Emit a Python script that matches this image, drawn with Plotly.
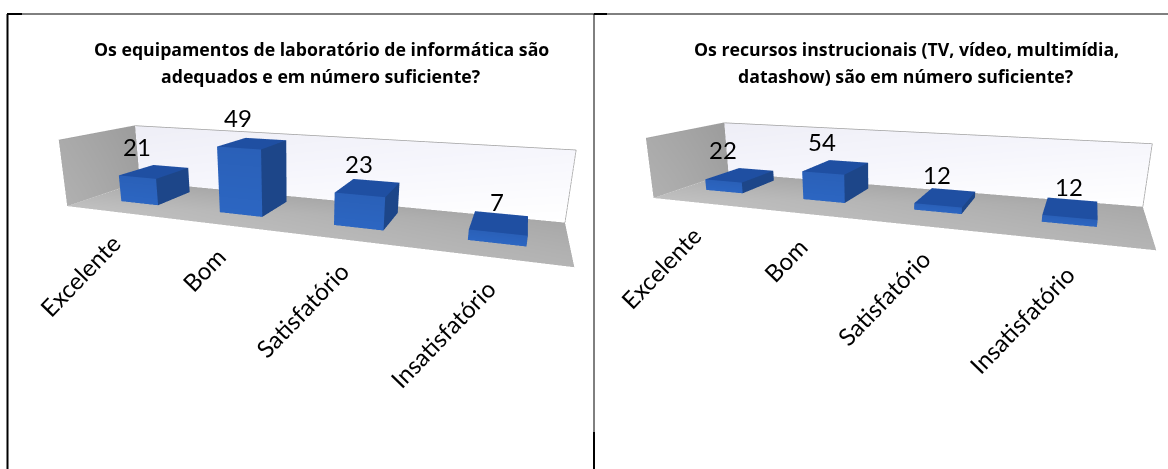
import plotly.graph_objects as go

W, H = 1168, 469

categorias = ["Excelente", "Bom", "Satisfatório", "Insatisfatório"]
valores_a = [21, 49, 23, 7]
valores_b = [22, 54, 12, 12]
titulo_a = ["Os equipamentos de laboratório de informática são", "adequados e em número suficiente?"]
titulo_b = ["Os recursos instrucionais (TV, vídeo, multimídia,", "datashow) são em número suficiente?"]

FONTE = "Lato"
LUZ = dict(ambient=1, diffuse=0, specular=0, fresnel=0, roughness=1)


def quad(fig, scene, xs, ys, zs, cols):
    fig.add_trace(go.Mesh3d(
        x=xs, y=ys, z=zs, i=[0, 0], j=[1, 2], k=[2, 3], vertexcolor=cols,
        lighting=LUZ, flatshading=True, hoverinfo="skip", scene=scene, showscale=False,
    ))


def painel(fig, scene, valores, zmax, y0, y1, dx):
    # paredes e piso
    quad(fig, scene, [0, 0, 4, 4], [1, 1, 1, 1], [0, zmax, zmax, 0], ["#f5f5fc", "#eeeef6", "#f6f6fc", "#ffffff"])
    quad(fig, scene, [0, 0, 0, 0], [0, 1, 1, 0], [0, 0, zmax, zmax], ["#b0b0b0", "#a0a0a0", "#9c9c9c", "#ababab"])
    quad(fig, scene, [0, 4, 4, 0], [0, 0, 1, 1], [0, 0, 0, 0], ["#c0c0c0", "#b4b4b4", "#a8a8a8", "#a8a8a8"])
    fig.add_trace(go.Scatter3d(
        x=[0, 0, 4, 4], y=[0, 1, 1, 1], z=[zmax, zmax, zmax, 0], mode="lines",
        line=dict(color="#a0a0a0", width=1.5), hoverinfo="skip", scene=scene,
    ))
    # barras
    for i, v in enumerate(valores):
        x0, x1 = i + 0.33 + dx, i + 0.72 + dx
        quad(fig, scene, [x0, x1, x1, x0], [y0] * 4, [0, 0, v, v], ["#2c66c2", "#2c66c2", "#2a60b8", "#2a60b8"])
        quad(fig, scene, [x0, x1, x1, x0], [y0, y0, y1, y1], [v] * 4, ["#1f4fa2"] * 4)
        quad(fig, scene, [x1] * 4, [y0, y1, y1, y0], [0, 0, v, v], ["#1d4689"] * 4)


def cena(dom, zmax, asp, eye, center, up_x, y0, dx, valores, cat_shift):
    notas = []
    for i, v in enumerate(valores):
        notas.append(dict(
            x=i + 0.52 + dx, y=y0, z=v, text=str(v), showarrow=False, yshift=31,
            font=dict(family=FONTE, size=24, color="black"),
        ))
    for i, c in enumerate(categorias):
        notas.append(dict(
            x=i + 0.5, y=0, z=0, text=c, showarrow=False, textangle=-46,
            xanchor="right", yanchor="top", xshift=cat_shift[0], yshift=cat_shift[1],
            font=dict(family=FONTE, size=24, color="black"),
        ))
    return dict(
        domain=dict(x=dom, y=[0, 1]), aspectmode="manual", bgcolor="rgba(0,0,0,0)",
        aspectratio=dict(x=1, y=asp[0], z=asp[1]),
        camera=dict(
            eye=dict(x=eye[0], y=eye[1], z=eye[2]),
            center=dict(x=center[0], y=center[1], z=center[2]),
            up=dict(x=up_x, y=0, z=1),
        ),
        xaxis=dict(visible=False, range=[0, 4]),
        yaxis=dict(visible=False, range=[0, 1]),
        zaxis=dict(visible=False, range=[0, zmax]),
        annotations=notas,
    )


def linha(x0, y0, x1, y1, largura=1):
    return dict(
        type="line", xref="paper", yref="paper", layer="above",
        x0=x0 / W, x1=x1 / W, y0=1 - y0 / H, y1=1 - y1 / H,
        line=dict(color="black", width=largura),
    )


def titulos(linhas, cx):
    return [
        dict(
            text=t, x=cx / W, y=1 - py / H, xref="paper", yref="paper", showarrow=False,
            xanchor="center", yanchor="middle",
            font=dict(family="Open Sans", size=17.7, color="black", weight="bold"),
        )
        for t, py in zip(linhas, [49, 76])
    ]


fig = go.Figure()
painel(fig, "scene", valores_a, 51, 0.3, 0.8, 0)
painel(fig, "scene2", valores_b, 115, 0.36, 0.85, -0.08)

fig.update_layout(
    width=W, height=H, margin=dict(l=0, r=0, t=0, b=0), showlegend=False, paper_bgcolor="white",
    scene=cena([9 / W, 581 / W], 51, (0.26, 0.143), (0.396, -1.056, 0.249), (0.012, -0.079, -0.091), 0.003,
               0.3, 0, valores_a, (14, -14)),
    scene2=cena([595 / W, 1163 / W], 115, (0.284, 0.13), (0.371, -1.104, 0.243), (0.009, -0.101, -0.105), -0.01,
                0.36, -0.08, valores_b, (8, -15)),
    annotations=titulos(titulo_a, 321) + titulos(titulo_b, 906),
    shapes=[
        linha(7, 14, 1168, 14),
        linha(7, 14, 22, 14, 2),
        linha(594, 14, 607, 14, 2),
        linha(7.5, 14, 7.5, 469, 2),
        linha(594, 14, 594, 432),
        linha(594, 432, 594, 469, 2),
    ],
)
fig.write_html("out.html", config=dict(displayModeBar=False), post_script="document.body.style.margin='0';")
